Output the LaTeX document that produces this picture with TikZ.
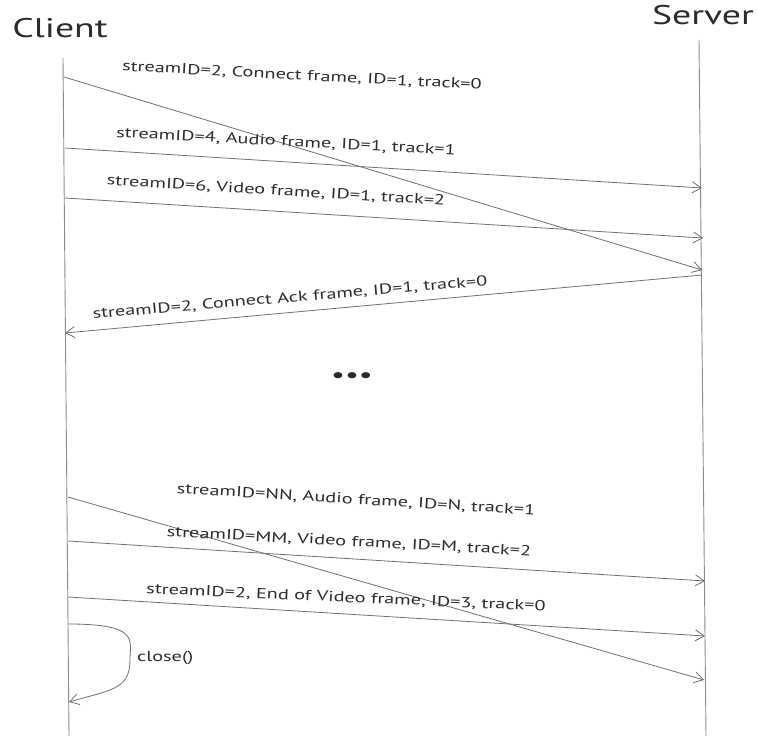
\documentclass[tikz,border=0pt]{standalone}
\usepackage{fontspec}
\setmainfont[FakeStretch=1.4]{PT Sans}
\usetikzlibrary{arrows.meta}
\definecolor{ink}{HTML}{2B2B2B}
\definecolor{wire}{HTML}{6E6E6E}
\tikzset{
  lifeline/.style={draw=wire!80, line width=0.9pt},
  msg/.style={draw=wire, line width=0.8pt, -{Straight Barb[length=9pt,width=11pt,line width=0.8pt]}},
  lbl/.style={text=ink, font=\fontsize{14.5}{16}\selectfont, inner sep=0pt},
  actor/.style={text=ink, font=\fontsize{27}{30}\selectfont, inner sep=0pt}
}
\begin{document}
\begin{tikzpicture}[x=1pt,y=-1pt]
\useasboundingbox (0,0) rectangle (758,736);
% actors
\node[actor] (client) at (60,28) {Client};
\node[actor] (server) at (703,15) {Server};
% lifelines
\coordinate (cTop) at (63,58);
\coordinate (cBot) at (69,736);
\coordinate (sTop) at (699,40);
\coordinate (sBot) at (706,736);
\draw[lifeline] (cTop) -- (cBot);
\draw[lifeline] (sTop) -- (sBot);
% message endpoints
\coordinate (c1) at (64,77);   \coordinate (s1) at (702,270);
\coordinate (c2) at (65,148);  \coordinate (s2) at (702,188);
\coordinate (c3) at (65,198);  \coordinate (s3) at (703,238);
\coordinate (s4) at (702,275); \coordinate (c4) at (65,333);
\coordinate (c5) at (68,497);  \coordinate (s5) at (704,680);
\coordinate (c6) at (68,541);  \coordinate (s6) at (705,581);
\coordinate (c7) at (68,597);  \coordinate (s7) at (705,636);
\coordinate (c8a) at (68,624); \coordinate (c8b) at (69,702);
% messages
\draw[msg] (c1) -- (s1);
\draw[msg] (c2) -- (s2);
\draw[msg] (c3) -- (s3);
\draw[msg] (s4) -- (c4);
\draw[msg] (c5) -- (s5);
\draw[msg] (c6) -- (s6);
\draw[msg] (c7) -- (s7);
\draw[msg] (c8a) .. controls (140,624) and (130,640) .. (130,660) .. controls (130,690) and (110,690) .. (c8b);
% labels
\node[lbl, rotate=-3] (l1) at (302,76) {streamID=2, Connect frame, ID=1, track=0};
\node[lbl, rotate=-3] (l2) at (286,142) {streamID=4, Audio frame, ID=1, track=1};
\node[lbl, rotate=-3.5] (l3) at (276,191) {streamID=6, Video frame, ID=1, track=2};
\node[lbl, rotate=4.8] (l4) at (290,298) {streamID=2, Connect Ack frame, ID=1, track=0};
\node[text=ink, font=\fontsize{22}{24}\selectfont, inner sep=0pt] (dots) at (352,378) {•••};
\node[lbl, rotate=-3.5] (l5) at (356,500) {streamID=NN, Audio frame, ID=N, track=1};
\node[lbl, rotate=-3] (l6) at (349,542) {streamID=MM, Video frame, ID=M, track=2};
\node[lbl, rotate=-2.5] (l7) at (346,598) {streamID=2, End of Video frame, ID=3, track=0};
\node[lbl, anchor=west] (l8) at (137,658) {close()};
\end{tikzpicture}
\end{document}
